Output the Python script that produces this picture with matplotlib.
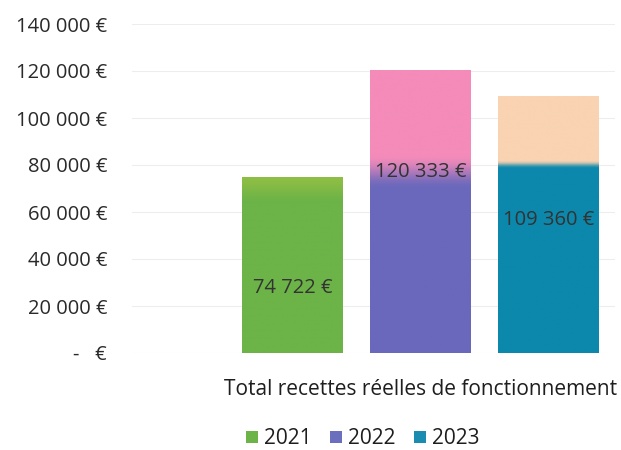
import numpy as np
import matplotlib
matplotlib.use("Agg")
import matplotlib.pyplot as plt
from matplotlib.colors import to_rgb
from matplotlib.patches import Patch

plt.rcParams['font.family'] = ['Open Sans', 'DejaVu Sans']

# ---- data ----
category = "Total recettes réelles de fonctionnement"
years = ["2021", "2022", "2023"]
values = [74722, 120333, 109360]
yticks = [0, 20000, 40000, 60000, 80000, 100000, 120000, 140000]

# ---- style ----
bottom_colors = ["#6CB348", "#6A68BC", "#0C88AC"]
top_colors = ["#8DBE44", "#F48BB9", "#F9D3B2"]
legend_colors = ["#6CB348", "#6A6FBE", "#1A8CB0"]
fade_start = [0.85, 0.58, 0.72]   # fraction of bar height where fade begins
fade_end = [1.00, 0.70, 0.75]
label_frac = [0.37, 0.64, 0.517]    # label position as fraction of bar height

fig = plt.figure(figsize=(6.21, 4.5), dpi=100)
ax = fig.add_axes([132/621, 1-353/450, (615-132)/621, (353-24)/450])
ax.set_ylim(0, 140000)
ax.set_xlim(0, 1)

group_center = 0.597
bw = 0.209
step = 0.265

def fmt(v):
    if v == 0:
        return "-   €"
    return f"{v:,.0f}".replace(",", " ") + " €"

for i, (yr, v) in enumerate(zip(years, values)):
    xc = group_center + (i - 1) * step
    bars = ax.bar(xc, v, width=bw, color="none", edgecolor="none", zorder=2)
    patch = bars[0]
    n = 200
    t = np.linspace(0, 1, n)
    c0 = np.array(to_rgb(bottom_colors[i]))
    c1 = np.array(to_rgb(top_colors[i]))
    w = np.clip((t - fade_start[i]) / max(fade_end[i] - fade_start[i], 1e-6), 0, 1)
    w = w * w * (3 - 2 * w)
    img = (c0[None, :] * (1 - w[:, None]) + c1[None, :] * w[:, None])[:, None, :]
    im = ax.imshow(img, extent=[xc - bw/2, xc + bw/2, 0, v], origin="lower",
                   aspect="auto", zorder=2, interpolation="bilinear")
    im.set_clip_path(patch)
    ax.text(xc, v * label_frac[i], fmt(v), ha="center", va="center",
            fontsize=14.5, color="#333333", zorder=3)

ax.set_xlim(0, 1)
ax.set_ylim(0, 140000)
ax.set_yticks(yticks)
ax.set_yticklabels([fmt(v) for v in yticks])
ax.tick_params(axis="y", length=0, pad=18, labelsize=14.5, labelcolor="#2a2a2a")
ax.set_xticks([group_center])
ax.set_xticklabels([category])
ax.tick_params(axis="x", length=0, pad=19, labelsize=15, labelcolor="#1e1e1e")
ax.grid(axis="y", color="#EDEDED", linewidth=0.8, zorder=0)
ax.set_axisbelow(True)
for s in ax.spines.values():
    s.set_visible(False)

handles = [Patch(facecolor=c, edgecolor="none") for c in legend_colors]
fig.legend(handles, years, loc="center", bbox_to_anchor=(363/621, 1-439/450),
           ncol=3, frameon=False, fontsize=15, handlelength=0.55, handleheight=0.55,
           handletextpad=0.3, columnspacing=0.9, labelcolor="#1e1e1e")

fig.savefig("out.png", dpi=100)
